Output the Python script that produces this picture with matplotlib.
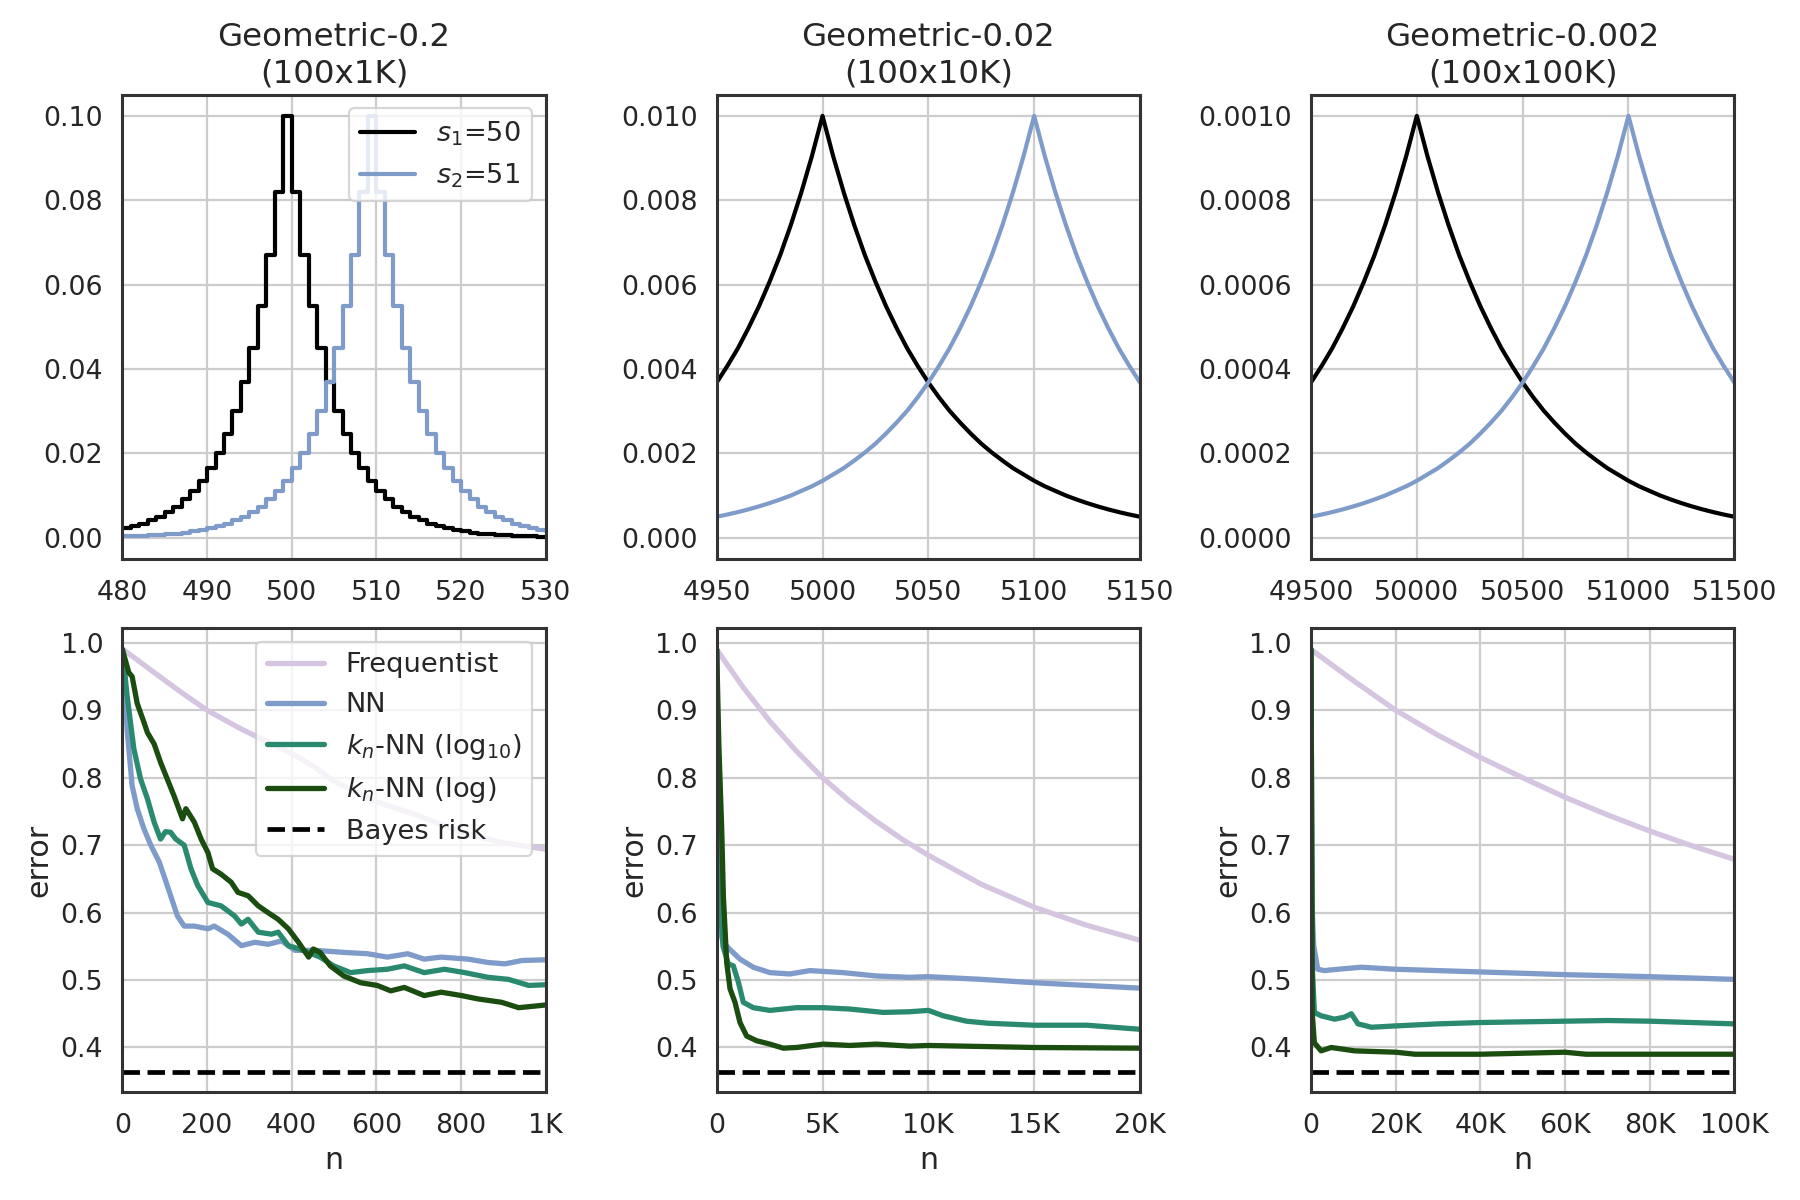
import numpy as np
import matplotlib
matplotlib.use("Agg")
from matplotlib import pyplot as plt
from matplotlib.ticker import FormatStrFormatter
import seaborn as sns

# ---- top row: class-conditional distributions ----
titles = ["Geometric-0.2\n(100x1K)", "Geometric-0.02\n(100x10K)", "Geometric-0.002\n(100x100K)"]

# top-left: probability per unit step, by distance from the peak
geo02_levels = [0.1, 0.0819, 0.0670, 0.0549, 0.0449, 0.0368, 0.0301, 0.0247, 0.0202,
                0.0165, 0.0135, 0.0111, 0.0091, 0.0074, 0.0061, 0.0050, 0.0041, 0.0033,
                0.0027, 0.0022, 0.0018, 0.0015, 0.0012, 0.0010, 0.0008, 0.0007, 0.00055,
                0.00045, 0.00037, 0.0003, 0.00025, 0.0002]
geo02_peaks = [499, 509]
geo02_x = np.arange(479, 531)

# top-middle / top-right: value read every few units away from the peak
geo002_dist = [0, 5, 10, 15, 20, 25, 30, 35, 40, 45, 50, 55, 60, 65, 70, 75, 80, 85,
               90, 95, 100, 105, 110, 115, 120, 125, 130, 135, 140, 145, 150]
geo002_level = [0.01000, 0.00905, 0.00819, 0.00741, 0.00670, 0.00607, 0.00549, 0.00497,
                0.00449, 0.00407, 0.00368, 0.00333, 0.00301, 0.00273, 0.00247, 0.00223,
                0.00202, 0.00183, 0.00165, 0.00150, 0.00135, 0.00122, 0.00111, 0.00100,
                0.000907, 0.000821, 0.000743, 0.000672, 0.000608, 0.000550, 0.000498]
geo002_peaks = [5000, 5100]

geo0002_dist = [0, 50, 100, 150, 200, 250, 300, 350, 400, 450, 500, 550, 600, 650, 700,
                750, 800, 850, 900, 950, 1000, 1050, 1100, 1150, 1200, 1250, 1300, 1350,
                1400, 1450, 1500]
geo0002_level = [0.001000, 0.000905, 0.000819, 0.000741, 0.000670, 0.000607, 0.000549,
                 0.000497, 0.000449, 0.000407, 0.000368, 0.000333, 0.000301, 0.000273,
                 0.000247, 0.000223, 0.000202, 0.000183, 0.000165, 0.000150, 0.000135,
                 0.000122, 0.000111, 0.000100, 0.0000907, 0.0000821, 0.0000743,
                 0.0000672, 0.0000608, 0.0000550, 0.0000498]
geo0002_peaks = [50000, 51000]

# ---- bottom row: error curves ----
freq_1k_n = [0, 75, 138, 200, 281, 344, 408, 456, 499, 602, 698, 801, 896, 1000]
freq_1k = [0.991, 0.956, 0.927, 0.90, 0.872, 0.853, 0.833, 0.815, 0.795, 0.764, 0.744, 0.719, 0.704, 0.694]
nn_1k_n = [0, 5, 11, 23, 35, 51, 67, 87, 98, 114, 130, 146, 170, 202, 217, 249, 281, 313,
           344, 376, 408, 456, 523, 579, 626, 674, 713, 753, 817, 864, 904, 944, 1000]
nn_1k = [0.99, 0.96, 0.872, 0.788, 0.754, 0.724, 0.70, 0.675, 0.655, 0.625, 0.595, 0.58,
         0.58, 0.576, 0.58, 0.568, 0.551, 0.556, 0.553, 0.558, 0.544, 0.544, 0.541, 0.539,
         0.534, 0.539, 0.531, 0.534, 0.531, 0.526, 0.524, 0.529, 0.530]
kl10_1k_n = [0, 11, 27, 43, 59, 75, 90, 102, 114, 126, 146, 162, 178, 202, 233, 265, 281,
             297, 321, 352, 368, 392, 424, 467, 499, 539, 579, 626, 666, 713, 761, 809,
             864, 912, 960, 1000]
kl10_1k = [0.99, 0.922, 0.843, 0.798, 0.769, 0.734, 0.709, 0.72, 0.719, 0.709, 0.70, 0.665,
           0.64, 0.615, 0.61, 0.595, 0.583, 0.59, 0.571, 0.568, 0.571, 0.551, 0.545, 0.534,
           0.521, 0.511, 0.514, 0.516, 0.521, 0.511, 0.516, 0.511, 0.504, 0.501, 0.492, 0.493]
kln_1k_n = [0, 15, 23, 35, 51, 59, 75, 90, 106, 122, 142, 150, 170, 186, 202, 213, 233, 257,
            273, 297, 321, 344, 368, 392, 416, 440, 451, 467, 491, 523, 563, 602, 634, 666,
            713, 753, 801, 840, 896, 936, 1000]
kln_1k = [0.99, 0.956, 0.95, 0.91, 0.882, 0.867, 0.85, 0.823, 0.798, 0.773, 0.739, 0.754,
          0.734, 0.709, 0.689, 0.665, 0.657, 0.645, 0.63, 0.625, 0.61, 0.60, 0.59, 0.576,
          0.556, 0.534, 0.546, 0.541, 0.521, 0.506, 0.496, 0.492, 0.484, 0.489, 0.477,
          0.482, 0.477, 0.472, 0.467, 0.459, 0.463]

freq_20k_n = [0, 1250, 2500, 3750, 5000, 6250, 7500, 8750, 10000, 12500, 15000, 17500, 20000]
freq_20k = [0.99, 0.934, 0.884, 0.84, 0.80, 0.766, 0.736, 0.709, 0.685, 0.642, 0.608, 0.581, 0.559]
nn_20k_n = [0, 40, 120, 300, 600, 1100, 1729, 2515, 3458, 4400, 5970, 7545, 9118, 10000,
            12500, 15000, 17500, 20000]
nn_20k = [0.99, 0.65, 0.58, 0.556, 0.546, 0.531, 0.519, 0.511, 0.509, 0.514, 0.511, 0.506,
          0.504, 0.505, 0.501, 0.496, 0.492, 0.488]
kl10_20k_n = [0, 50, 150, 300, 550, 786, 1022, 1258, 1729, 2515, 3773, 5030, 6288, 7860,
              9118, 10000, 10700, 11800, 12800, 15000, 17500, 20000]
kl10_20k = [0.99, 0.80, 0.62, 0.55, 0.524, 0.521, 0.497, 0.467, 0.459, 0.455, 0.459, 0.459,
            0.457, 0.452, 0.453, 0.455, 0.447, 0.439, 0.436, 0.433, 0.433, 0.427]
kln_20k_n = [0, 100, 236, 314, 472, 629, 865, 1100, 1415, 1886, 2515, 3144, 3773, 5030,
             6288, 7545, 9118, 10000, 15000, 20000]
kln_20k = [0.99, 0.85, 0.724, 0.625, 0.526, 0.487, 0.467, 0.437, 0.417, 0.41, 0.405, 0.399,
           0.40, 0.405, 0.403, 0.405, 0.402, 0.403, 0.40, 0.399]

freq_100k_n = [0, 10000, 20000, 30000, 40000, 50000, 60000, 70000, 80000, 90000, 100000]
freq_100k = [0.99, 0.944, 0.90, 0.863, 0.83, 0.80, 0.771, 0.745, 0.721, 0.699, 0.679]
nn_100k_n = [0, 200, 635, 1588, 3176, 6352, 11900, 20000, 30000, 40000, 60000, 80000, 100000]
nn_100k = [0.99, 0.62, 0.551, 0.516, 0.514, 0.516, 0.519, 0.516, 0.514, 0.512, 0.508, 0.505, 0.501]
kl10_100k_n = [0, 300, 794, 2382, 5560, 7940, 9528, 11100, 14300, 20000, 30000, 40000,
               60000, 70000, 80000, 100000]
kl10_100k = [0.99, 0.52, 0.452, 0.447, 0.442, 0.445, 0.45, 0.435, 0.43, 0.432, 0.435,
             0.437, 0.439, 0.44, 0.439, 0.435]
kln_100k_n = [0, 300, 794, 2382, 4764, 10300, 20000, 24600, 40000, 60000, 65000, 100000]
kln_100k = [0.99, 0.45, 0.407, 0.395, 0.40, 0.395, 0.393, 0.39, 0.39, 0.393, 0.39, 0.39]

bayes_risk = 0.364

xticks_bottom = [[0, 200, 400, 600, 800, 1000], [0, 5000, 10000, 15000, 20000],
                 [0, 20000, 40000, 60000, 80000, 100000]]
xticklabels_bottom = [["0", "200", "400", "600", "800", "1K"], ["0", "5K", "10K", "15K", "20K"],
                      ["0", "20K", "40K", "60K", "80K", "100K"]]
xticks_top = [[480, 490, 500, 510, 520, 530], [4950, 5000, 5050, 5100, 5150],
              [49500, 50000, 50500, 51000, 51500]]
ylims_top = [(-0.005, 0.105), (-0.0005, 0.0105), (-0.00005, 0.00105)]
ytick_fmt = ['%.2f', '%.3f', '%.4f']

c_s1 = 'black'
c_s2 = '#7f9bc9'
c_freq = '#d5c5e0'
c_nn = '#7f9bc9'
c_kl10 = '#2a8a70'
c_kln = '#1b4c10'

sns.set_theme(context='paper', style='whitegrid',
              rc={'axes.edgecolor': '.2', 'axes.linewidth': 1.1,
                  'xtick.labelsize': 9.7, 'ytick.labelsize': 9.7,
                  'xtick.major.size': 4.0, 'ytick.major.size': 3.4})

fig, axes = plt.subplots(2, 3, figsize=(9, 6), dpi=200)
plt.subplots_adjust(left=0.068, right=0.9635, bottom=0.09, top=0.921, wspace=0.404, hspace=0.149)

# top-left step curves
ax = axes[0, 0]
lv = np.array(geo02_levels)
ax.step(geo02_x, lv[np.abs(geo02_x - geo02_peaks[0])], where='post', color=c_s1, lw=1.5, label='$s_1$=50')
ax.step(geo02_x, lv[np.abs(geo02_x - geo02_peaks[1])], where='post', color=c_s2, lw=1.5, label='$s_2$=51')
ax.set_xlim(480, 530)
ax.legend(loc='upper right', fontsize=9.8, handlelength=2.0, handletextpad=0.8)

for ax, dist, lev, peaks in [(axes[0, 1], geo002_dist, geo002_level, geo002_peaks),
                             (axes[0, 2], geo0002_dist, geo0002_level, geo0002_peaks)]:
    d = np.array(dist)
    v = np.array(lev)
    for pk, col in zip(peaks, [c_s1, c_s2]):
        xs = np.concatenate([pk - d[::-1], pk + d[1:]])
        ys = np.concatenate([v[::-1], v[1:]])
        ax.plot(xs, ys, color=col, lw=1.5)

axes[0, 1].set_xlim(4950, 5150)
axes[0, 2].set_xlim(49500, 51500)

for j in range(3):
    ax = axes[0, j]
    ax.set_title(titles[j], fontsize=11.7, pad=4.5)
    ax.set_xticks(xticks_top[j])
    ax.set_ylim(*ylims_top[j])
    ax.yaxis.set_major_formatter(FormatStrFormatter(ytick_fmt[j]))

bottom_data = [
    [(freq_1k_n, freq_1k), (nn_1k_n, nn_1k), (kl10_1k_n, kl10_1k), (kln_1k_n, kln_1k)],
    [(freq_20k_n, freq_20k), (nn_20k_n, nn_20k), (kl10_20k_n, kl10_20k), (kln_20k_n, kln_20k)],
    [(freq_100k_n, freq_100k), (nn_100k_n, nn_100k), (kl10_100k_n, kl10_100k), (kln_100k_n, kln_100k)],
]
labels = ['Frequentist', 'NN', '$k_n$-NN (log$_{10}$)', '$k_n$-NN (log)']
colors = [c_freq, c_nn, c_kl10, c_kln]

for j in range(3):
    ax = axes[1, j]
    for (xs, ys), lab, col in zip(bottom_data[j], labels, colors):
        ax.plot(xs, ys, color=col, lw=1.9, label=lab)
    ax.axhline(bayes_risk, color='black', ls='--', lw=1.7, label='Bayes risk')
    ax.set_xlim(xticks_bottom[j][0], xticks_bottom[j][-1])
    ax.set_ylim(0.334, 1.022)
    ax.set_xticks(xticks_bottom[j])
    ax.set_xticklabels(xticklabels_bottom[j])
    ax.set_yticks([0.4, 0.5, 0.6, 0.7, 0.8, 0.9, 1.0])
    ax.set_xlabel('n', fontsize=10.8, labelpad=2.5)
    ax.set_ylabel('error', fontsize=10.8, labelpad=2.5)

axes[1, 0].legend(loc='upper right', fontsize=9.8, handlelength=2.1, handletextpad=0.8)

plt.savefig('out.png', dpi=200)
